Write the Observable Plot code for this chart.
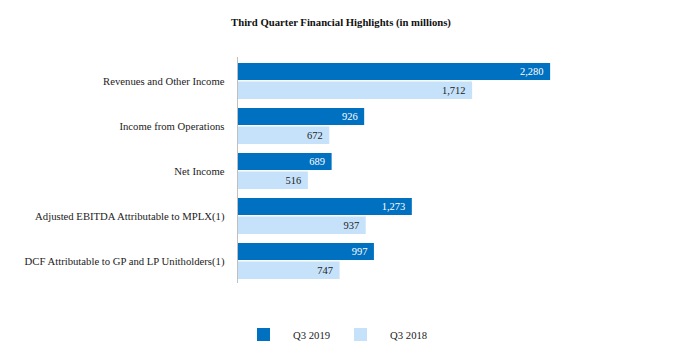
<!DOCTYPE html>
<html>
<head>
<meta charset="utf-8">
<script src="https://cdn.jsdelivr.net/npm/d3@7"></script>
<script src="https://cdn.jsdelivr.net/npm/@observablehq/plot@0.6"></script>
<style>
  body { margin: 0; background: #fff; font-family: "Liberation Serif", "Times New Roman", serif; }
  #wrap { width: 682px; height: 356px; position: relative; background: #fff; }
  #title { height: 40px; box-sizing: border-box; padding-top: 15px; text-align: center; font-weight: bold; font-size: 10.7px; line-height: 14px; color: #111; }
  #chart svg { display: block; }
  #legend { height: 56px; box-sizing: border-box; padding-top: 13px; padding-left: 257px; display: flex; align-items: center; font-size: 10.7px; line-height: 14px; color: #222; }
  #legend .sw { width: 13px; height: 13px; display: inline-block; }
  #legend .lab { display: inline-block; }
</style>
</head>
<body>
<div id="wrap">
  <div id="title"></div>
  <div id="chart"></div>
  <div id="legend"></div>
</div>
<script>
const titleText = "Third Quarter Financial Highlights (in millions)";
const categories = [
  "Revenues and Other Income",
  "Income from Operations",
  "Net Income",
  "Adjusted EBITDA Attributable to MPLX(1)",
  "DCF Attributable to GP and LP Unitholders(1)"
];
const seriesNames = ["Q3 2019", "Q3 2018"];
const q3_2019 = [2280, 926, 689, 1273, 997];
const q3_2018 = [1712, 672, 516, 937, 747];
const colors = ["#0070c0", "#c5e2fa"];

const fmt = d3.format(",");
const rows2019 = categories.map((c, i) => ({category: c, series: seriesNames[0], value: q3_2019[i]}));
const rows2018 = categories.map((c, i) => ({category: c, series: seriesNames[1], value: q3_2018[i]}));

document.getElementById("title").textContent = titleText;

const chart = Plot.plot({
  width: 682,
  height: 260,
  marginTop: 17,
  marginBottom: 17,
  marginLeft: 237,
  marginRight: 33,
  style: {fontFamily: "'Liberation Serif', 'Times New Roman', serif", fontSize: "10.7px", color: "#222", background: "white"},
  x: {domain: [0, 3000], axis: null},
  y: {domain: categories, paddingInner: 0.19, paddingOuter: 0.094, align: 0.59, label: null, tickSize: 0, tickPadding: 13},
  marks: [
    Plot.barX(rows2019, {x: "value", y: "category", fill: colors[0], insetBottom: 19}),
    Plot.barX(rows2018, {x: "value", y: "category", fill: colors[1], insetTop: 18.5}),
    Plot.ruleX([0], {stroke: "#bfbfbf"}),
    Plot.text(rows2019, {x: "value", y: "category", text: d => fmt(d.value), textAnchor: "end", dx: -7, dy: -9.5, fill: "white", fontSize: 10.5}),
    Plot.text(rows2018, {x: "value", y: "category", text: d => fmt(d.value), textAnchor: "end", dx: -7, dy: 9, fill: "#222", fontSize: 10.5})
  ]
});
document.getElementById("chart").appendChild(chart);

const legend = document.getElementById("legend");
const gaps = [[23, 24], [23, 0]];
seriesNames.forEach((name, i) => {
  const sw = document.createElement("span");
  sw.className = "sw";
  sw.style.background = colors[i];
  sw.style.marginRight = gaps[i][0] + "px";
  const lab = document.createElement("span");
  lab.className = "lab";
  lab.textContent = name;
  lab.style.marginRight = gaps[i][1] + "px";
  legend.appendChild(sw);
  legend.appendChild(lab);
});
</script>
</body>
</html>
